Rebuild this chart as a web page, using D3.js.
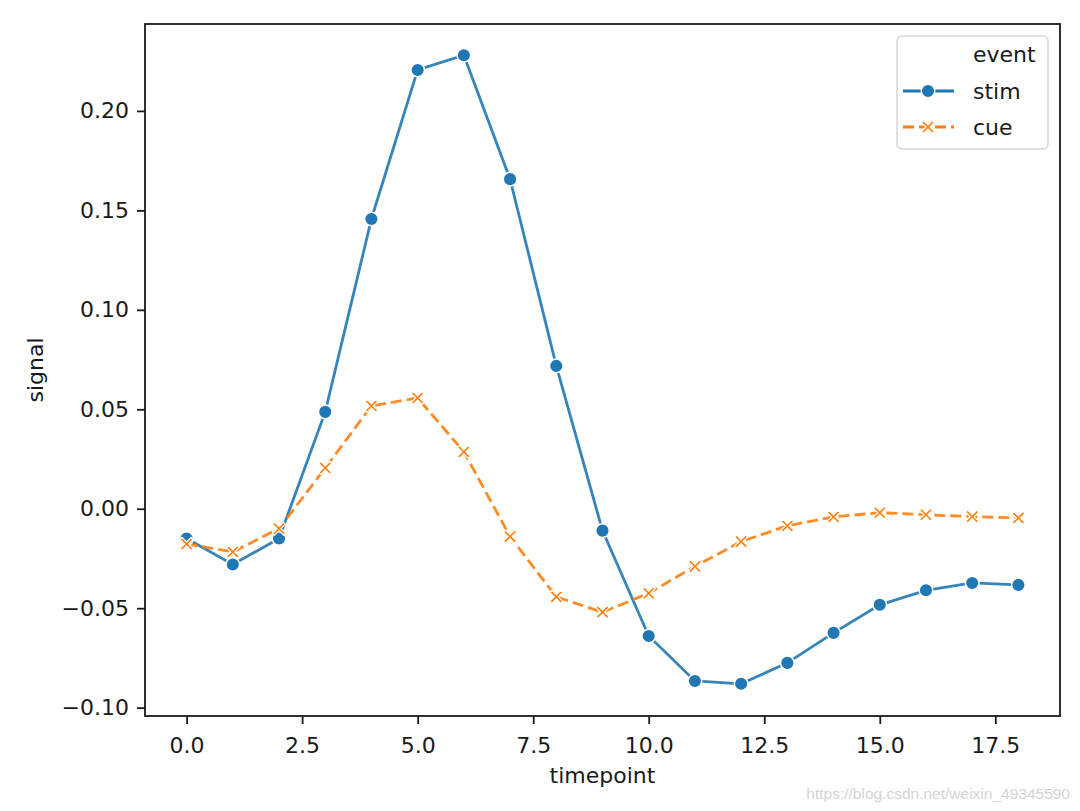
<!DOCTYPE html>
<html>
<head>
<meta charset="utf-8">
<script src="https://cdn.jsdelivr.net/npm/d3@7"></script>
<style>
  body { margin: 0; background: #fff; }
  text { font-family: "DejaVu Sans", sans-serif; fill: #1a1a1a; }
</style>
</head>
<body>
<script>
// data
var timepoints = [0, 1, 2, 3, 4, 5, 6, 7, 8, 9, 10, 11, 12, 13, 14, 15, 16, 17, 18];
var stim = [-0.015, -0.028, -0.015, 0.0487, 0.1457, 0.2206, 0.228, 0.1657, 0.0718, -0.011,
            -0.064, -0.0866, -0.088, -0.0775, -0.0624, -0.0483, -0.041, -0.0373, -0.0383];
var cue = [-0.0177, -0.0217, -0.010, 0.0205, 0.0517, 0.0557, 0.0286, -0.014, -0.0443, -0.052,
           -0.0425, -0.029, -0.0165, -0.0086, -0.0041, -0.002, -0.003, -0.004, -0.0046];
var xTicks = [0, 2.5, 5, 7.5, 10, 12.5, 15, 17.5];
var yTicks = [-0.10, -0.05, 0.00, 0.05, 0.10, 0.15, 0.20];
var seriesNames = ["stim", "cue"];
var seriesColors = ["#1f77b4", "#ff7f0e"];

var W = 1080, H = 811;
var margin = {top: 24, right: 20, bottom: 95, left: 145};
var width = W - margin.left - margin.right,
    height = H - margin.top - margin.bottom;

var svg = d3.select("body").append("svg")
    .attr("width", W)
    .attr("height", H);

var g = svg.append("g")
    .attr("transform", "translate(" + margin.left + "," + margin.top + ")");

var xScale = d3.scaleLinear()
    .domain([-0.9, 18.9])
    .range([0, width]);

var yScale = d3.scaleLinear()
    .domain([-0.1042, 0.2437])
    .range([height, 0]);

// axes
var xAxis = g.append("g")
    .attr("transform", "translate(0," + height + ")")
    .call(d3.axisBottom(xScale).tickValues(xTicks).tickFormat(d3.format(".1f")).tickSizeOuter(0).tickSize(8).tickPadding(8));
var yAxis = g.append("g")
    .call(d3.axisLeft(yScale).tickValues(yTicks)
      .tickFormat(function(d) { return d3.format(".2f")(d).replace("-", "\u2212"); })
      .tickSizeOuter(0).tickSize(8).tickPadding(8));
[xAxis, yAxis].forEach(function(a) {
  a.select(".domain").remove();
  a.selectAll("line").attr("stroke", "#1a1a1a").attr("stroke-width", 1.8);
  a.selectAll("text").style("font-size", "22px").attr("fill", "#1a1a1a");
});
xAxis.selectAll("text").attr("dy", "0.95em");

// frame
g.append("rect")
    .attr("width", width)
    .attr("height", height)
    .attr("fill", "none")
    .attr("stroke", "#1a1a1a")
    .attr("stroke-width", 1.8);

// lines
var line = d3.line()
    .x(function(d, i) { return xScale(timepoints[i]); })
    .y(function(d) { return yScale(d); });

var xShape = "M-6.5,-4.5L-4.5,-6.5L0,-2L4.5,-6.5L6.5,-4.5L2,0L6.5,4.5L4.5,6.5L0,2L-4.5,6.5L-6.5,4.5L-2,0Z";

[stim, cue].forEach(function(series, k) {
  g.append("path")
    .datum(series)
    .attr("fill", "none")
    .attr("stroke", seriesColors[k])
    .attr("stroke-width", 2.8)
    .attr("stroke-opacity", 0.9)
    .attr("stroke-dasharray", k === 1 ? "11,5" : null)
    .attr("d", line);
});

g.selectAll(".dot")
  .data(stim)
  .enter().append("circle")
    .attr("class", "dot")
    .attr("cx", function(d, i) { return xScale(timepoints[i]); })
    .attr("cy", function(d) { return yScale(d); })
    .attr("r", 6.8)
    .attr("fill", seriesColors[0])
    .attr("stroke", "#fff")
    .attr("stroke-width", 1.5);

g.selectAll(".cross")
  .data(cue)
  .enter().append("path")
    .attr("class", "cross")
    .attr("transform", function(d, i) { return "translate(" + xScale(timepoints[i]) + "," + yScale(d) + ")"; })
    .attr("d", xShape)
    .attr("fill", seriesColors[1])
    .attr("stroke", "#fff")
    .attr("stroke-width", 1.2);

// axis labels
g.append("text")
    .attr("x", xScale(9))
    .attr("y", height + 67)
    .attr("text-anchor", "middle")
    .style("font-size", "22px")
    .text("timepoint");
g.append("text")
    .attr("transform", "rotate(-90)")
    .attr("x", -height / 2)
    .attr("y", -102)
    .attr("text-anchor", "middle")
    .style("font-size", "22px")
    .text("signal");

// legend
var legend = svg.append("g").attr("transform", "translate(897,36)");
legend.append("rect")
    .attr("width", 151)
    .attr("height", 113)
    .attr("rx", 5)
    .attr("fill", "#fff")
    .attr("fill-opacity", 0.8)
    .attr("stroke", "#d6d6d6")
    .attr("stroke-width", 1.5);
legend.append("text")
    .attr("x", 76)
    .attr("y", 18)
    .attr("dy", "0.35em")
    .style("font-size", "22px")
    .text("event");
seriesNames.forEach(function(name, k) {
  var yy = 55 + k * 36;
  legend.append("line")
    .attr("x1", 6).attr("x2", 57)
    .attr("y1", yy).attr("y2", yy)
    .attr("stroke", seriesColors[k])
    .attr("stroke-width", 2.8)
    .attr("stroke-dasharray", k === 1 ? "11,5" : null);
  if (k === 0) {
    legend.append("circle")
      .attr("cx", 31).attr("cy", yy).attr("r", 6.8)
      .attr("fill", seriesColors[0]).attr("stroke", "#fff").attr("stroke-width", 1.5);
  } else {
    legend.append("path")
      .attr("transform", "translate(31," + yy + ")")
      .attr("d", xShape)
      .attr("fill", seriesColors[1]).attr("stroke", "#fff").attr("stroke-width", 1.2);
  }
  legend.append("text")
    .attr("x", 76)
    .attr("y", yy)
    .attr("dy", "0.35em")
    .style("font-size", "22px")
    .text(name);
});

// watermark
svg.append("text")
    .attr("x", 1070)
    .attr("y", 799)
    .attr("text-anchor", "end")
    .style("font-family", "Liberation Sans, Arial, sans-serif")
    .style("font-size", "15.5px")
    .style("fill", "#d4d4d4")
    .text("https://blog.csdn.net/weixin_49345590");
</script>
</body>
</html>
